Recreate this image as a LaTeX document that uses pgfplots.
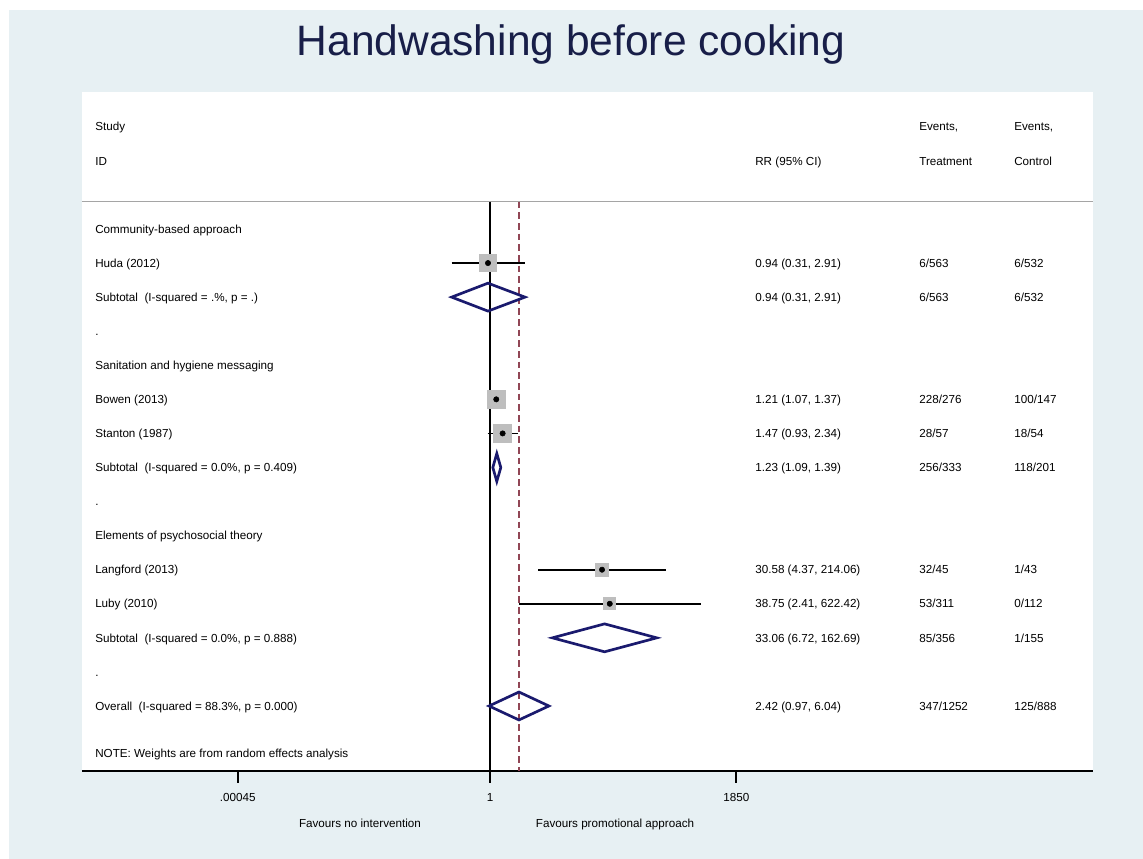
\documentclass[border=0pt]{standalone}
\usepackage{fontspec}
\setmainfont{Liberation Sans}
\usepackage{pgfplots}
\pgfplotsset{compat=1.18}
\definecolor{bgblue}{RGB}{231,240,243}
\definecolor{titlenavy}{RGB}{24,30,72}
\definecolor{dmnavy}{RGB}{26,26,110}
\definecolor{boxgray}{RGB}{190,190,190}
\definecolor{ovred}{RGB}{145,70,85}
\definecolor{linegray}{RGB}{165,165,165}
\newcommand{\rf}{\fontsize{8.75}{10}\selectfont}
\tikzset{rowtxt/.style={anchor=west, font=\rf, inner sep=0pt, text height=6.26pt, text depth=0pt},
  boxm/.style={only marks, mark=square*, mark options={fill=boxgray, draw=boxgray, line width=0pt}}}
\def\xL{5.77e-6}
\def\xR{3273}
\def\xT{4.898e5}
\def\xC{8.91e6}
\begin{document}
\begin{tikzpicture}
\fill[white] (0,0) rectangle (857.25pt,644.25pt);
\fill[bgblue] (6.75pt,0) rectangle (857.25pt,636.75pt);
\node[anchor=base, font=\fontsize{31.9}{36}\selectfont, text=titlenavy, inner sep=0pt] at (428.25pt,602.25pt) {Handwashing before cooking};
\node[anchor=center, font=\rf, inner sep=0pt, text height=6.26pt, text depth=0pt] at (270pt,27pt) {Favours no intervention};
\node[anchor=center, font=\rf, inner sep=0pt, text height=6.26pt, text depth=0pt] at (461.25pt,27pt) {Favours promotional approach};
\begin{axis}[
  at={(61.5pt,66pt)}, anchor=south west,
  width=758.25pt, height=509.25pt, scale only axis,
  xmode=log, xmin=3.88e-6, xmax=9.93e7,
  ymin=-16.908, ymax=3.021,
  axis x line=bottom, axis y line=none,
  x axis line style={-, line width=1.5pt, black},
  axis background/.style={fill=white},
  clip=false,
  xtick={0.00045,1,1850}, xticklabels={.00045,1,1850},
  tick align=outside, major tick length=9pt, minor tick num=0,
  every tick/.style={black, line width=1.5pt},
  xticklabel style={font=\rf, inner sep=0pt, text height=6.26pt, text depth=0pt, anchor=center, yshift=-11pt},
  /pgf/number format/assume math mode=true,
]
% reference lines
\addplot[linegray, line width=1.1pt] coordinates {(3.88e-6,-0.2) (9.93e7,-0.2)};
\addplot[black, line width=1.3pt] coordinates {(1,-0.2) (1,-16.908)};
\addplot[ovred, line width=0.9pt, dash pattern=on 5pt off 3pt] coordinates {(2.42,-0.2) (2.42,-16.908)};
% Huda
\addplot[boxm, mark size=6.2pt] coordinates {(0.94,-2)};
\addplot[black, line width=1.3pt] coordinates {(0.31,-2) (2.91,-2)};
\addplot[only marks, mark=*, mark size=2pt, black] coordinates {(0.94,-2)};
\addplot[dmnavy, line width=2pt, line join=miter] coordinates {(0.31,-3) (0.94,-2.59) (2.91,-3) (0.94,-3.41)} --cycle;
% Bowen
\addplot[boxm, mark size=6.9pt] coordinates {(1.21,-6)};
\addplot[black, line width=1.3pt] coordinates {(1.07,-6) (1.37,-6)};
\addplot[only marks, mark=*, mark size=2pt, black] coordinates {(1.21,-6)};
% Stanton
\addplot[boxm, mark size=6.75pt] coordinates {(1.47,-7)};
\addplot[black, line width=1.3pt] coordinates {(0.93,-7) (2.34,-7)};
\addplot[only marks, mark=*, mark size=2pt, black] coordinates {(1.47,-7)};
\addplot[dmnavy, line width=2pt, line join=miter] coordinates {(1.09,-8) (1.23,-7.59) (1.39,-8) (1.23,-8.41)} --cycle;
% Langford
\addplot[boxm, mark size=4.9pt] coordinates {(30.58,-11)};
\addplot[black, line width=1.3pt] coordinates {(4.37,-11) (214.06,-11)};
\addplot[only marks, mark=*, mark size=2pt, black] coordinates {(30.58,-11)};
% Luby
\addplot[boxm, mark size=4.5pt] coordinates {(38.75,-12)};
\addplot[black, line width=1.3pt] coordinates {(2.41,-12) (622.42,-12)};
\addplot[only marks, mark=*, mark size=2pt, black] coordinates {(38.75,-12)};
\addplot[dmnavy, line width=2pt, line join=miter] coordinates {(6.72,-13) (33.06,-12.59) (162.69,-13) (33.06,-13.41)} --cycle;
% Overall
\addplot[dmnavy, line width=2pt, line join=miter] coordinates {(0.97,-15) (2.42,-14.59) (6.04,-15) (2.42,-15.41)} --cycle;
% header
\node[rowtxt] at (axis cs:\xL,2) {Study};
\node[rowtxt] at (axis cs:\xL,1) {ID};
\node[rowtxt] at (axis cs:\xR,1) {RR (95\% CI)};
\node[rowtxt] at (axis cs:\xT,2) {Events,};
\node[rowtxt] at (axis cs:\xT,1) {Treatment};
\node[rowtxt] at (axis cs:\xC,2) {Events,};
\node[rowtxt] at (axis cs:\xC,1) {Control};
% rows: labels
\node[rowtxt] at (axis cs:\xL,-1) {Community-based approach};
\node[rowtxt] at (axis cs:\xL,-2) {Huda (2012)};
\node[rowtxt] at (axis cs:\xL,-3) {Subtotal\ \ (I-squared = .\%, p = .)};
\node[rowtxt] at (axis cs:\xL,-4) {.};
\node[rowtxt] at (axis cs:\xL,-5) {Sanitation and hygiene messaging};
\node[rowtxt] at (axis cs:\xL,-6) {Bowen (2013)};
\node[rowtxt] at (axis cs:\xL,-7) {Stanton (1987)};
\node[rowtxt] at (axis cs:\xL,-8) {Subtotal\ \ (I-squared = 0.0\%, p = 0.409)};
\node[rowtxt] at (axis cs:\xL,-9) {.};
\node[rowtxt] at (axis cs:\xL,-10) {Elements of psychosocial theory};
\node[rowtxt] at (axis cs:\xL,-11) {Langford (2013)};
\node[rowtxt] at (axis cs:\xL,-12) {Luby (2010)};
\node[rowtxt] at (axis cs:\xL,-13) {Subtotal\ \ (I-squared = 0.0\%, p = 0.888)};
\node[rowtxt] at (axis cs:\xL,-14) {.};
\node[rowtxt] at (axis cs:\xL,-15) {Overall\ \ (I-squared = 88.3\%, p = 0.000)};
\node[rowtxt] at (axis cs:\xL,-16.4) {NOTE: Weights are from random effects analysis};
% RR column
\node[rowtxt] at (axis cs:\xR,-2) {0.94 (0.31, 2.91)};
\node[rowtxt] at (axis cs:\xR,-3) {0.94 (0.31, 2.91)};
\node[rowtxt] at (axis cs:\xR,-6) {1.21 (1.07, 1.37)};
\node[rowtxt] at (axis cs:\xR,-7) {1.47 (0.93, 2.34)};
\node[rowtxt] at (axis cs:\xR,-8) {1.23 (1.09, 1.39)};
\node[rowtxt] at (axis cs:\xR,-11) {30.58 (4.37, 214.06)};
\node[rowtxt] at (axis cs:\xR,-12) {38.75 (2.41, 622.42)};
\node[rowtxt] at (axis cs:\xR,-13) {33.06 (6.72, 162.69)};
\node[rowtxt] at (axis cs:\xR,-15) {2.42 (0.97, 6.04)};
% Treatment column
\node[rowtxt] at (axis cs:\xT,-2) {6/563};
\node[rowtxt] at (axis cs:\xT,-3) {6/563};
\node[rowtxt] at (axis cs:\xT,-6) {228/276};
\node[rowtxt] at (axis cs:\xT,-7) {28/57};
\node[rowtxt] at (axis cs:\xT,-8) {256/333};
\node[rowtxt] at (axis cs:\xT,-11) {32/45};
\node[rowtxt] at (axis cs:\xT,-12) {53/311};
\node[rowtxt] at (axis cs:\xT,-13) {85/356};
\node[rowtxt] at (axis cs:\xT,-15) {347/1252};
% Control column
\node[rowtxt] at (axis cs:\xC,-2) {6/532};
\node[rowtxt] at (axis cs:\xC,-3) {6/532};
\node[rowtxt] at (axis cs:\xC,-6) {100/147};
\node[rowtxt] at (axis cs:\xC,-7) {18/54};
\node[rowtxt] at (axis cs:\xC,-8) {118/201};
\node[rowtxt] at (axis cs:\xC,-11) {1/43};
\node[rowtxt] at (axis cs:\xC,-12) {0/112};
\node[rowtxt] at (axis cs:\xC,-13) {1/155};
\node[rowtxt] at (axis cs:\xC,-15) {125/888};
\end{axis}
\end{tikzpicture}
\end{document}
